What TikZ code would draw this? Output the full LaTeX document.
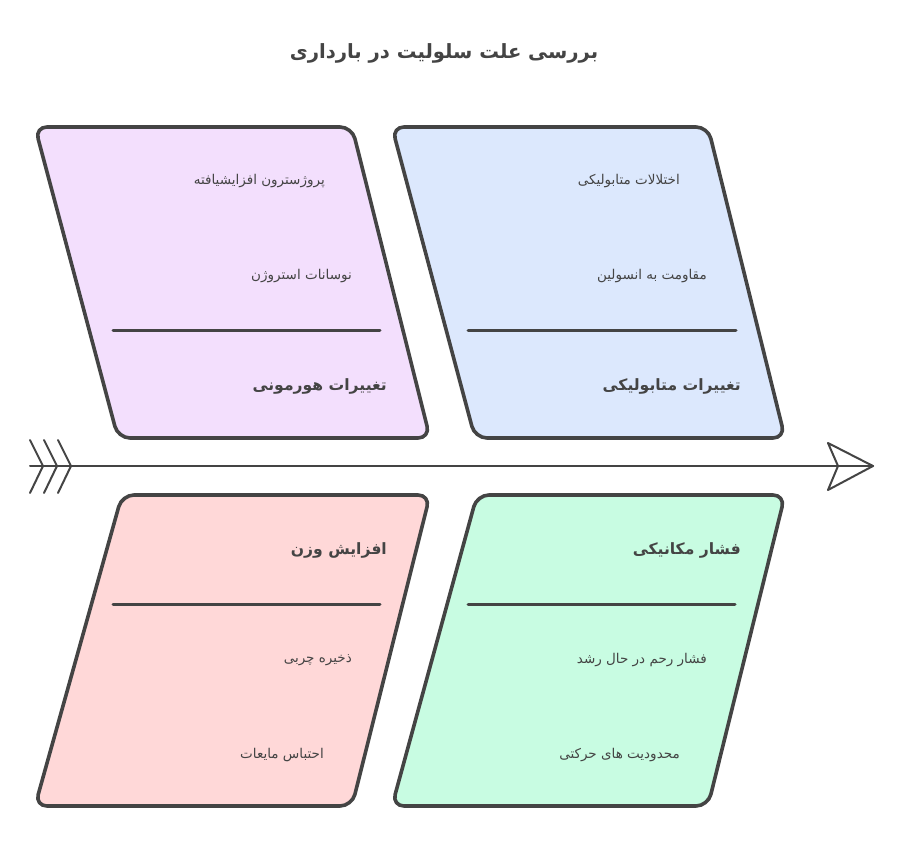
\documentclass[tikz,border=0pt]{standalone}
\usepackage{fontspec}
\newfontfamily\arabicfont[Script=Arabic]{DejaVu Sans}
\TeXXeTstate=1
\definecolor{ink}{HTML}{444444}
\definecolor{fpurple}{HTML}{F3DFFD}
\definecolor{fblue}{HTML}{DCE8FD}
\definecolor{fpink}{HTML}{FFD8D8}
\definecolor{fgreen}{HTML}{C8FCE2}
\begin{document}
\begin{tikzpicture}[x=1pt,y=-1pt,
  boxline/.style={draw=ink, line width=3.6pt, rounded corners=12pt, line join=round},
  sepline/.style={draw=ink, line width=3pt, line cap=round},
  spine/.style={draw=ink, line width=2pt, line cap=round, line join=round},
  item/.style={anchor=east, inner sep=0pt, text=ink, font=\arabicfont\fontsize{13.5}{15}\selectfont},
  cat/.style={anchor=east, inner sep=0pt, text=ink, font=\arabicfont\bfseries\fontsize{15.6}{18}\selectfont},
  ttl/.style={anchor=center, inner sep=0pt, text=ink, font=\arabicfont\bfseries\fontsize{19.6}{22}\selectfont}]
\useasboundingbox (0,0) rectangle (906,867);
\fill[white] (0,0) rectangle (906,867);

% title
\node[ttl] (title) at (444,53) {\beginR بررسی علت سلولیت در بارداری\endR};

% boxes
\path[boxline, fill=fpurple] (35,127) -- (352,127) -- (430,438) -- (118,438) -- cycle;
\path[boxline, fill=fblue] (392,127) -- (708,127) -- (785,438) -- (475,438) -- cycle;
\path[boxline, fill=fpink] (122,495) -- (430,495) -- (352,806) -- (35,806) -- cycle;
\path[boxline, fill=fgreen] (477,495) -- (785,495) -- (708,806) -- (392,806) -- cycle;

% separator lines
\draw[sepline] (113,330) -- (380,330);
\draw[sepline] (468,330) -- (736,330);
\draw[sepline] (113,604) -- (380,604);
\draw[sepline] (468,604) -- (735,604);

% spine
\coordinate (tail) at (30,466);
\coordinate (head) at (873,466);
\draw[spine] (tail) -- (head);
\draw[spine] (828,443) -- (head) -- (828,490) -- (838,466) -- cycle;
\foreach \x in {30,44,58}{
  \draw[spine] (\x,440) -- (\x+13,466) -- (\x,493);
}

% top-left
\node[item] (a1) at (325,181) {\beginR پروژسترون افزایشیافته\endR};
\node[item] (a2) at (352,276) {\beginR نوسانات استروژن\endR};
\node[cat] (ac) at (387,386) {\beginR تغییرات هورمونی\endR};

% top-right
\node[item] (b1) at (680,181) {\beginR اختلالات متابولیکی\endR};
\node[item] (b2) at (707,276) {\beginR مقاومت به انسولین\endR};
\node[cat] (bc) at (741,386) {\beginR تغییرات متابولیکی\endR};

% bottom-left
\node[cat] (cc) at (387,550) {\beginR افزایش وزن\endR};
\node[item] (c1) at (352,660) {\beginR ذخیره چربی\endR};
\node[item] (c2) at (324,755) {\beginR احتباس مایعات\endR};

% bottom-right
\node[cat] (dc) at (741,550) {\beginR فشار مکانیکی\endR};
\node[item] (d1) at (707,660) {\beginR فشار رحم در حال رشد\endR};
\node[item] (d2) at (680,755) {\beginR محدودیت های حرکتی\endR};
\end{tikzpicture}
\end{document}
